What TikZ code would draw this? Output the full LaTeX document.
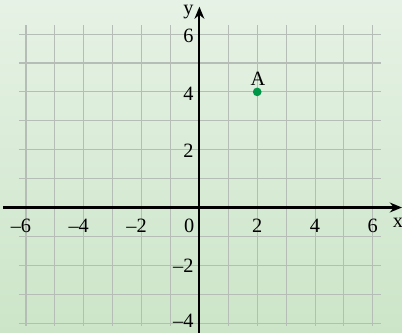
\documentclass[tikz,border=0pt]{standalone}
\usepackage{fontspec}
\setmainfont{Liberation Serif}
\usepackage{tikz}
\usetikzlibrary{arrows.meta}
\definecolor{bgtop}{RGB}{230,242,229}
\definecolor{bgbot}{RGB}{204,229,200}
\definecolor{gridgray}{RGB}{182,188,182}
\definecolor{dotgreen}{RGB}{0,150,72}

\begin{document}
\begin{tikzpicture}[
  axis/.style={line width=2pt,black},
  ticklabel/.style={font=\fontsize{20}{22}\selectfont,inner sep=0pt},
  pointdot/.style={circle,fill=dotgreen,minimum size=0.3cm,inner sep=0pt}]
  \useasboundingbox (-6.9,-4.34) rectangle (7.01,7.18);
  \shade[top color=bgtop,bottom color=bgbot] (-6.9,-4.34) rectangle (7.01,7.18);
  \draw[gridgray,line width=1pt] (-6.25,-4.1) grid (6.3,6.3);
  \coordinate (xl) at (-6.78,0);
  \coordinate (xr) at (7.01,0);
  \coordinate (yb) at (0,-4.34);
  \coordinate (yt) at (0,6.95);
  \draw[axis,-{Stealth[length=4.2mm,width=3.4mm]}] (xl) -- (xr);
  \draw[axis,-{Stealth[length=4.2mm,width=3.4mm]}] (yb) -- (yt);
  \node[ticklabel] (x) at (6.87,-0.53) {x};
  \node[ticklabel] (y) at (-0.38,6.75) {y};

  \foreach \n in {-6,-4,-2} {
    \node[ticklabel] (xlab\n) at (\n,-0.64) {\llap{--}\the\numexpr-\n\relax};
  }
  \foreach \n in {2,4,6} {
    \node[ticklabel] (xlab\n) at (\n,-0.64) {\n};
  }
  \node[ticklabel] (zero) at (-0.35,-0.64) {0};
  \foreach \n in {2,4,6} {
    \node[ticklabel,anchor=east] (ylab\n) at (-0.2,\n-0.05) {\n};
  }
  \node[ticklabel,anchor=east] (ylab-2) at (-0.2,-2.03) {--2};
  \node[ticklabel,anchor=east] (ylab-4) at (-0.2,-3.92) {--4};

  \node[pointdot] (A) at (2,4) {};
  \node[ticklabel] (Alab) at (2.03,4.45) {A};
\end{tikzpicture}
\end{document}
